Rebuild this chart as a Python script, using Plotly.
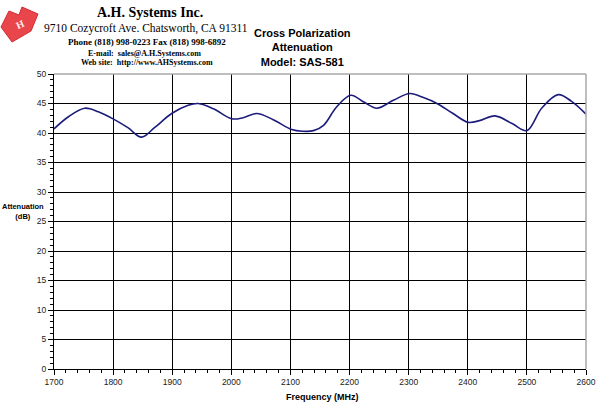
import plotly.graph_objects as go

# Data
freq_mhz = [1700, 1725, 1752, 1775, 1800, 1825, 1848, 1870, 1899, 1927, 1944, 1970,
            2001, 2020, 2043, 2070, 2102, 2120, 2139, 2156, 2178, 2202, 2225, 2246,
            2275, 2302, 2325, 2348, 2375, 2401, 2420, 2446, 2475, 2500, 2525, 2553,
            2575, 2600]
atten_db = [40.7, 42.8, 44.2, 43.6, 42.4, 40.9, 39.3, 40.9, 43.3, 44.7, 45.0, 44.1,
            42.4, 42.6, 43.3, 42.3, 40.6, 40.3, 40.4, 41.3, 44.4, 46.4, 45.2, 44.2,
            45.6, 46.7, 46.0, 45.0, 43.3, 41.8, 42.1, 42.9, 41.6, 40.4, 44.2, 46.5,
            45.4, 43.2]

x_ticks = [1700, 1800, 1900, 2000, 2100, 2200, 2300, 2400, 2500, 2600]
y_ticks = [0, 5, 10, 15, 20, 25, 30, 35, 40, 45, 50]

W, H = 600, 405
L, R, T, B = 54, 14, 74, 36
PW, PH = W - L - R, H - T - B

def px(x, y):
    return (x - L) / PW, (H - B - y) / PH

fig = go.Figure()
fig.add_trace(go.Scatter(
    x=freq_mhz, y=atten_db, mode="lines",
    line=dict(color="#1c1c7c", width=1.6, shape="spline", smoothing=1.0),
    hoverinfo="skip", showlegend=False))

axis_font = dict(family="Arial, Liberation Sans, sans-serif", size=8.5, color="#222")
fig.update_layout(
    width=W, height=H, autosize=False,
    margin=dict(l=L, r=R, t=T, b=B, pad=0),
    paper_bgcolor="white", plot_bgcolor="white",
    xaxis=dict(range=[1700, 2600], tickvals=x_ticks, ticktext=[str(v) for v in x_ticks],
               showgrid=True, gridcolor="#000", gridwidth=1,
               showline=True, linecolor="#000", linewidth=1,
               ticks="outside", ticklen=5, tickcolor="#000",
               minor=dict(dtick=20, tick0=1700, ticks="outside", ticklen=3, tickcolor="#000", showgrid=False),
               tickfont=axis_font, zeroline=False, fixedrange=True, automargin=False),
    yaxis=dict(range=[0, 50], tickvals=y_ticks, ticktext=[str(v) for v in y_ticks],
               showgrid=True, gridcolor="#000", gridwidth=1,
               showline=True, linecolor="#000", linewidth=1,
               ticks="outside", ticklen=5, tickcolor="#000",
               minor=dict(dtick=1, tick0=0, ticks="outside", ticklen=3, tickcolor="#000", showgrid=False),
               tickfont=axis_font, zeroline=False, fixedrange=True, automargin=False),
)

# gray top and right borders
fig.add_shape(type="line", xref="paper", yref="paper", x0=0, x1=1, y0=1, y1=1,
              line=dict(color="#a8a8a8", width=1.5), layer="above")
fig.add_shape(type="line", xref="paper", yref="paper", x0=1, x1=1, y0=0, y1=1,
              line=dict(color="#a8a8a8", width=1.5), layer="above")

def note(text, cx, cy, font, align="center"):
    xa, ya = px(cx, cy)
    fig.add_annotation(xref="paper", yref="paper", x=xa, y=ya, showarrow=False,
                       xanchor="center", yanchor="middle", text=text, align=align,
                       font=font)

# axis titles
note("<b>Frequency (MHz)</b>", 322, 397,
     dict(family="Arial, Liberation Sans, sans-serif", size=9, color="#000"))
note("<b>Attenuation</b><br><b>(dB)</b>", 23, 211,
     dict(family="Arial, Liberation Sans, sans-serif", size=7.5, color="#000"))

# Chart title
note("<b>Cross Polarization</b><br><b>Attenuation</b><br><b>Model: SAS-581</b>", 302, 47,
     dict(family="Arial, Liberation Sans, sans-serif", size=11, color="#000"))

# Company header
serif = "Liberation Serif, Times New Roman, serif"
header = [
    ("<b>A.H. Systems Inc.</b>", 150, 13, 14),
    ("9710 Cozycroft Ave. Chatsworth, CA 91311", 146, 29, 11.5),
    ("<b>Phone (818) 998-0223 Fax (818) 998-6892</b>", 147, 42, 9),
    ("<b>E-mail:  sales@A.H.Systems.com</b>", 144, 53, 8),
    ("<b>Web site:  http://www.AHSystems.com</b>", 147, 63, 8),
]
for txt, cx, cy, sz in header:
    note(txt, cx, cy, dict(family=serif, size=sz, color="#000"))

# Logo (decorative red shape)
logo = [(1, 27), (9, 11), (19, 15), (22, 7), (38, 14), (31, 31), (12, 42)]
pts = [px(a, b) for a, b in logo]
path = "M " + " L ".join(f"{a:.4f},{b:.4f}" for a, b in pts) + " Z"
fig.add_shape(type="path", xref="paper", yref="paper", path=path,
              fillcolor="#e8464a", line=dict(color="#d42a30", width=1), layer="above")
xa, ya = px(20, 24)
fig.add_annotation(xref="paper", yref="paper", x=xa, y=ya, showarrow=False,
                   xanchor="center", yanchor="middle",
                   text="<b>H</b>", textangle=-25,
                   font=dict(family=serif, size=10, color="#fff0f0"))

fig.write_html("out.html")
